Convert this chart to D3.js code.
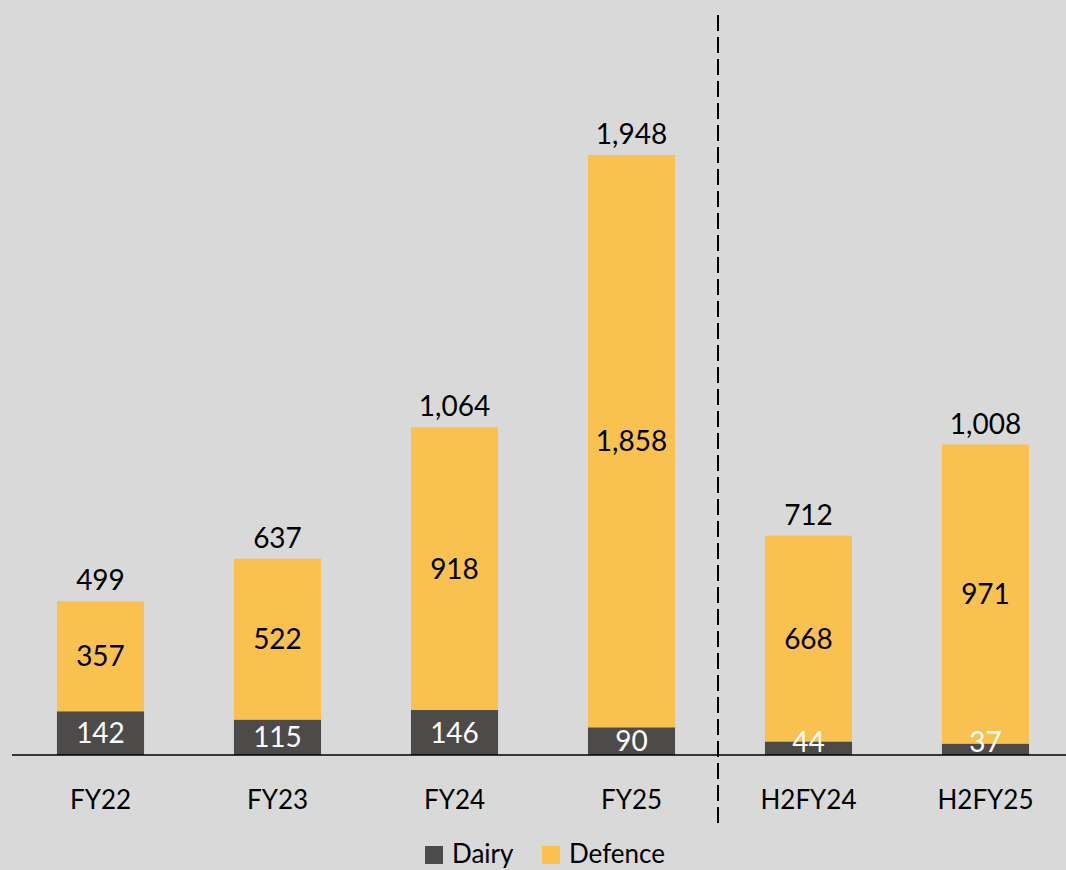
<!DOCTYPE html>
<html><head><meta charset="utf-8">
<script src="https://cdn.jsdelivr.net/npm/d3@7"></script>
<style>
html,body{margin:0;padding:0;background:#d9d9d9;}
svg{display:block;}
text{font-family:"Lato","Open Sans",sans-serif;}
</style></head>
<body>
<svg id="chart" width="1066" height="870"></svg>
<script>
const categories = ["FY22","FY23","FY24","FY25","H2FY24","H2FY25"];
const dairy = [142,115,146,90,44,37];
const defence = [357,522,918,1858,668,971];
const totals = [499,637,1064,1948,712,1008];
const seriesNames = ["Dairy","Defence"];
const colors = {Dairy:"#4d4b49", Defence:"#f9c14f"};

const svg = d3.select("#chart");
svg.append("rect").attr("width",1066).attr("height",870).attr("fill","#d9d9d9");

const baseY = 755;
const x = d3.scaleBand().domain(categories).range([12,1074]).paddingInner(0.508).paddingOuter(0.254);
const y = d3.scaleLinear().domain([0, d3.max(totals)]).range([baseY,155]);

const fmt = d3.format(",");
const rows = categories.map((c,i)=>({cat:c, Dairy:dairy[i], Defence:defence[i]}));
const stack = d3.stack().keys(seriesNames)(rows);

const g = svg.append("g");
stack.forEach(layer=>{
  g.selectAll(null).data(layer).enter().append("rect")
    .attr("x",d=>x(d.data.cat))
    .attr("width",x.bandwidth())
    .attr("y",d=>y(d[1]))
    .attr("height",d=>y(d[0])-y(d[1]))
    .attr("fill",colors[layer.key]);
});

// segment labels
stack.forEach(layer=>{
  g.selectAll(null).data(layer).enter().append("text")
    .attr("x",d=>x(d.data.cat)+x.bandwidth()/2)
    .attr("y",d=>Math.min((y(d[0])+y(d[1]))/2, baseY-13))
    .attr("dy","0.36em")
    .attr("text-anchor","middle")
    .attr("font-size",28)
    .attr("fill",layer.key==="Dairy"?"#ffffff":"#000000")
    .text(d=>fmt(d.data[layer.key]));
});

// totals
g.selectAll(null).data(categories).enter().append("text")
  .attr("x",c=>x(c)+x.bandwidth()/2)
  .attr("y",(c,i)=>y(totals[i])-11)
  .attr("text-anchor","middle")
  .attr("font-size",28)
  .attr("fill","#000")
  .text((c,i)=>fmt(totals[i]));

// x axis
const xAxis = d3.axisBottom(x).tickSize(0).tickPadding(0);
const ax = svg.append("g").attr("transform",`translate(0,${baseY})`).call(xAxis);
ax.select(".domain").remove();
ax.selectAll("text").attr("font-size",26).attr("fill","#000").attr("dy","0").attr("y",54)
  .style("font-family","Lato, 'Open Sans', sans-serif");
svg.append("line").attr("x1",12).attr("x2",1066).attr("y1",baseY).attr("y2",baseY)
  .attr("stroke","#000").attr("stroke-width",1.5);

// dashed divider
const divX = (x("FY25")+x.bandwidth()+x("H2FY24"))/2 - 2;
svg.append("line").attr("x1",divX).attr("x2",divX).attr("y1",15).attr("y2",826)
  .attr("stroke","#000").attr("stroke-width",2).attr("stroke-dasharray","16,6");

// legend
const leg = svg.append("g").attr("transform","translate(425,846)");
const legX = [0,117];
seriesNames.forEach((s,i)=>{
  leg.append("rect").attr("x",legX[i]).attr("y",0).attr("width",18).attr("height",18).attr("fill",colors[s]);
  leg.append("text").attr("x",legX[i]+27).attr("y",17).attr("font-size",26).attr("fill","#000").text(s);
});
</script>
</body></html>
